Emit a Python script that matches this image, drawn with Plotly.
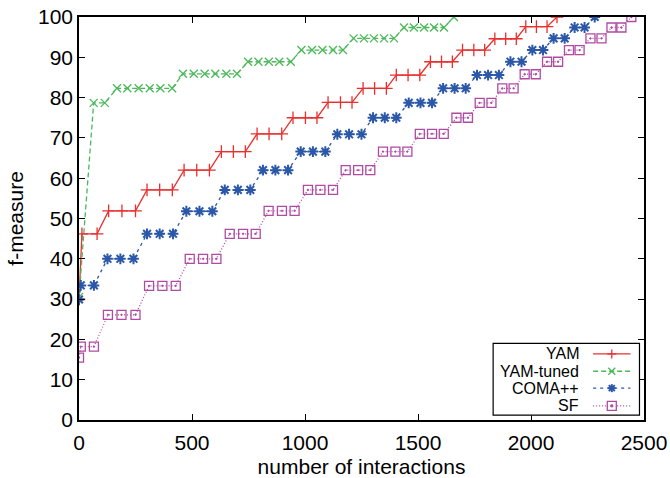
import plotly.graph_objects as go

# values
yam_x = [0, 13, 80, 131, 190, 250, 301, 357, 413, 465, 521, 577, 630, 683, 736,
         788, 841, 897, 947, 1002, 1053, 1102, 1157, 1208, 1257, 1308, 1360,
         1404, 1456, 1508, 1555, 1604, 1652, 1697, 1747, 1795, 1840, 1888, 1935,
         1977, 2024, 2071, 2115]
yam_y = [30, 46.2, 46.2, 51.9, 51.9, 51.9, 57.1, 57.1, 57.1, 62.0, 62.0, 62.0,
         66.6, 66.6, 66.6, 71.0, 71.0, 71.0, 75.0, 75.0, 75.0, 78.8, 78.8, 78.8,
         82.3, 82.3, 82.3, 85.6, 85.6, 85.6, 88.9, 88.9, 88.9, 91.8, 91.8, 91.8,
         94.6, 94.6, 94.6, 97.6, 97.6, 97.6, 100]

tuned_x = [0, 65, 114, 168, 214, 264, 313, 360, 412, 460, 508, 556, 603, 652, 699,
           748, 794, 840, 886, 937, 984, 1031, 1077, 1124, 1168, 1215, 1261, 1305,
           1350, 1394, 1438, 1482, 1527, 1571, 1615, 1659]
tuned_y = [30.5, 78.7, 78.7, 82.3, 82.3, 82.3, 82.3, 82.3, 82.3, 85.9, 85.9, 85.9,
           85.9, 85.9, 85.9, 88.9, 88.9, 88.9, 88.9, 88.9, 91.8, 91.8, 91.8, 91.8,
           91.8, 94.7, 94.7, 94.7, 94.7, 94.7, 97.4, 97.4, 97.4, 97.4, 97.4, 100]

coma_x = [0, 8, 66, 126, 183, 241, 301, 357, 416, 475, 533, 590, 645, 703, 758,
          814, 869, 925, 981, 1035, 1090, 1143, 1195, 1250, 1301, 1353, 1404, 1459,
          1511, 1562, 1611, 1662, 1711, 1761, 1810, 1858, 1909, 1958, 2006, 2053,
          2100, 2149, 2193, 2237, 2282]
coma_y = [29.9, 33.4, 33.4, 40.0, 40.0, 40.0, 46.2, 46.2, 46.2, 51.8, 51.8, 51.8,
          57.1, 57.1, 57.1, 62.0, 62.0, 62.0, 66.6, 66.6, 66.6, 70.9, 70.9, 70.9,
          75.0, 75.0, 75.0, 78.7, 78.7, 78.7, 82.3, 82.3, 82.3, 85.6, 85.6, 85.6,
          88.9, 88.9, 91.8, 91.8, 94.7, 94.7, 97.4, 97.4, 100]

sf_x = [0, 8, 66, 128, 188, 250, 310, 369, 428, 490, 549, 608, 667, 726, 782,
        839, 898, 954, 1013, 1068, 1124, 1180, 1235, 1289, 1345, 1400, 1453, 1508,
        1562, 1614, 1670, 1721, 1773, 1825, 1873, 1923, 1972, 2021, 2071, 2120,
        2168, 2215, 2263, 2312, 2356, 2400, 2444]
sf_y = [15.5, 18.2, 18.2, 26.1, 26.1, 26.1, 33.3, 33.3, 33.3, 40.0, 40.0, 40.0,
        46.2, 46.2, 46.2, 51.9, 51.9, 51.9, 57.1, 57.1, 57.1, 62.0, 62.0, 62.0,
        66.6, 66.6, 66.6, 71.0, 71.0, 71.0, 75.0, 75.0, 78.7, 78.7, 82.3, 82.3,
        85.8, 85.8, 88.9, 88.9, 91.8, 91.8, 94.7, 94.7, 97.4, 97.4, 100]

series = [
    ("YAM", yam_x, yam_y, "#e8302f", "solid", "cross-thin"),
    ("YAM-tuned", tuned_x, tuned_y, "#4cb85a", "5px,3px", "x-thin"),
    ("COMA++", coma_x, coma_y, "#2b57a8", "3px,4px", "asterisk-open"),
    ("SF", sf_x, sf_y, "#b04aa3", "1px,2px", "square-open-dot"),
]

font = "Liberation Sans, Arial, sans-serif"

fig = go.Figure()
for name, xs, ys, color, dash, symbol in series:
    fig.add_trace(go.Scatter(x=xs, y=ys, name=name, mode="lines+markers", showlegend=False,
                             line=dict(color=color, width=1.3, dash=dash),
                             marker=dict(symbol=symbol, size=9 if symbol != "x-thin" else 8,
                                         line=dict(color=color,
                                                   width=2 if symbol == "asterisk-open" else 1.3))))

# gnuplot-style key: label on the left, sample on the right
shapes = [dict(type="rect", xref="paper", yref="paper", x0=0.733, x1=0.992, y0=0.012, y1=0.19,
               line=dict(color="black", width=1.2), fillcolor="white", layer="above")]
# y title placed by hand, further left than plotly's standoff allows
annotations = [dict(text="f-measure", xref="paper", yref="paper", x=-0.113, y=0.5,
                    xanchor="center", yanchor="middle", textangle=-90, showarrow=False,
                    font=dict(family=font, size=21, color="black"))]
rows = [0.164, 0.121, 0.079, 0.035]
mx = 0.943


def mark_line(ya, x0, y0, x1, y1, color, width=1.3):
    return dict(type="line", xref="paper", yref="paper", xsizemode="pixel", ysizemode="pixel",
                xanchor=mx, yanchor=ya, x0=x0, x1=x1, y0=y0, y1=y1,
                line=dict(color=color, width=width), layer="above")


for (name, xs, ys, color, dash, symbol), ya in zip(series, rows):
    annotations.append(dict(text=name, xref="paper", yref="paper", x=0.889, y=ya,
                            xanchor="right", yanchor="middle", showarrow=False,
                            font=dict(family=font, size=16, color="black")))
    shapes.append(dict(type="line", xref="paper", yref="paper", x0=0.91, x1=0.976, y0=ya, y1=ya,
                       line=dict(color=color, width=1.3, dash=dash), layer="above"))
    if symbol == "cross-thin":
        shapes += [mark_line(ya, -4.5, 0, 4.5, 0, color), mark_line(ya, 0, -4.5, 0, 4.5, color)]
    elif symbol == "x-thin":
        shapes += [mark_line(ya, -3.5, -3.5, 3.5, 3.5, color), mark_line(ya, -3.5, 3.5, 3.5, -3.5, color)]
    elif symbol == "asterisk-open":
        shapes += [mark_line(ya, -4, 0, 4, 0, color, 2), mark_line(ya, 0, -4, 0, 4, color, 2),
                   mark_line(ya, -3, -3, 3, 3, color, 2), mark_line(ya, -3, 3, 3, -3, color, 2)]
    else:
        shapes.append(dict(type="rect", xref="paper", yref="paper", xsizemode="pixel",
                           ysizemode="pixel", xanchor=mx, yanchor=ya, x0=-4.5, x1=4.5,
                           y0=-4.5, y1=4.5, line=dict(color=color, width=1.3),
                           fillcolor="white", layer="above"))
        shapes.append(dict(type="rect", xref="paper", yref="paper", xsizemode="pixel",
                           ysizemode="pixel", xanchor=mx, yanchor=ya, x0=-1, x1=1,
                           y0=-1, y1=1, line=dict(color=color, width=1),
                           fillcolor=color, layer="above"))

axis = dict(showgrid=False, zeroline=False, showline=True, mirror="ticks",
            linecolor="black", linewidth=1.5, ticks="inside", ticklen=6,
            tickcolor="black", tickwidth=1.2, automargin=False,
            ticklabeloverflow="allow",
            tickfont=dict(family=font, size=21, color="black"))

fig.update_layout(
    width=670, height=478,
    margin=dict(l=79, r=26, t=17, b=58),
    paper_bgcolor="white", plot_bgcolor="white",
    font=dict(family=font, size=21, color="black"),
    xaxis=dict(axis, range=[0, 2500], dtick=500, ticklabelstandoff=3,
               title=dict(text="number of interactions", font=dict(size=21), standoff=6)),
    yaxis=dict(axis, range=[0, 100], dtick=10, ticklabelstandoff=0),
    shapes=shapes,
    annotations=annotations,
)

# drop the browser's default 8px body margin so the figure fills the window
fig.write_html("out.html", config={"displayModeBar": False},
               post_script="document.body.style.margin = '0';")
